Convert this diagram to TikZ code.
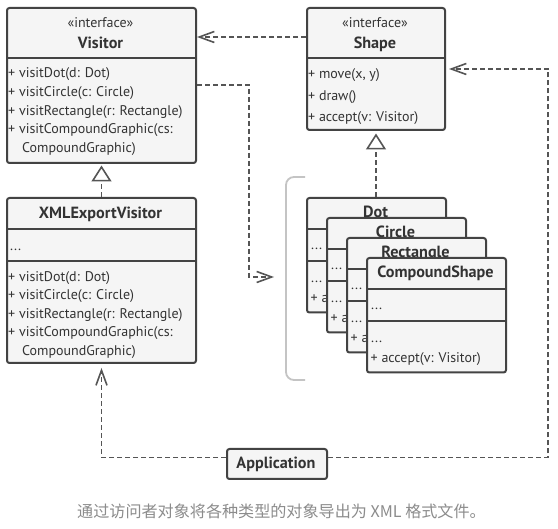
\documentclass[tikz,border=0pt]{standalone}
\usepackage{fontspec}
\setmainfont{PT Sans}
\newfontfamily\cjk{Noto Sans CJK SC}
\usetikzlibrary{arrows.meta}
\definecolor{boxc}{HTML}{434343}
\definecolor{boxf}{HTML}{F5F5F5}
\definecolor{txtc}{HTML}{333333}
\definecolor{linec}{HTML}{555555}
\definecolor{brkc}{HTML}{C4C4C4}
\definecolor{capc}{HTML}{8C8C8C}
\tikzset{
  umlbox/.style={draw=boxc, line width=2pt, fill=boxf, rounded corners=2.5pt, inner sep=0pt, anchor=north west},
  sepline/.style={draw=boxc, line width=2pt},
  txt/.style={anchor=base west, inner sep=0pt, text=txtc, font=\fontsize{14}{16}\selectfont},
  ctxt/.style={anchor=base, inner sep=0pt, text=txtc, font=\fontsize{14}{16}\selectfont},
  ttl/.style={anchor=base, inner sep=0pt, text=txtc, font=\fontsize{16.2}{19}\selectfont\bfseries},
  dep/.style={draw=linec, line width=1.6pt, dash pattern=on 5pt off 3pt, -{Straight Barb[length=15pt,width=11pt]}},
  realz/.style={draw=linec, line width=1.6pt, dash pattern=on 5pt off 3pt, -{Triangle[open,length=16pt,width=20pt]}},
  brk/.style={draw=brkc, line width=1.8pt, rounded corners=8pt},
}
\newcommand\shapebox[4]{% name, x, y, title
  \node[umlbox, minimum width=139pt, minimum height=114.5pt] (#1) at (#2,#3) {};
  \draw[sepline] (#2,#3+32) -- (#2+139,#3+32);
  \draw[sepline] (#2,#3+64.5) -- (#2+139,#3+64.5);
  \node[ttl] (#1t) at (#2+69.5,#3+21) {#4};
  \node[txt] (#1a) at (#2+5,#3+53) {...};
  \node[txt] (#1b) at (#2+5,#3+86) {...};
  \node[txt] (#1c) at (#2+4.5,#3+105.5) {+ accept(v: Visitor)};
}
\begin{document}
\begin{tikzpicture}[x=1pt,y=-1pt]
\useasboundingbox[fill=white] (0,0) rectangle (558,529);

% Visitor
\node[umlbox, minimum width=189pt, minimum height=155pt] (visitor) at (6,7) {};
\draw[sepline] (6,58) -- (195,58);
\node[ctxt] (v1) at (100.5,27.5) {«interface»};
\node[ttl] (v2) at (100.5,49) {Visitor};
\node[txt] (v3) at (8,78) {+ visitDot(d: Dot)};
\node[txt] (v4) at (8,96.7) {+ visitCircle(c: Circle)};
\node[txt] (v5) at (8,115.4) {+ visitRectangle(r: Rectangle)};
\node[txt] (v6) at (8,134) {+ visitCompoundGraphic(cs:};
\node[txt] (v7) at (22,152.8) {CompoundGraphic)};

% Shape
\node[umlbox, minimum width=138pt, minimum height=122pt] (shape) at (306,7) {};
\draw[sepline] (306,58) -- (444,58);
\node[ctxt] (s1) at (375,27.5) {«interface»};
\node[ttl] (s2) at (375,49) {Shape};
\node[txt] (s3) at (308,79) {+ move(x, y)};
\node[txt] (s4) at (308,100.5) {+ draw()};
\node[txt] (s5) at (308,121.5) {+ accept(v: Visitor)};

% XMLExportVisitor
\node[umlbox, minimum width=189pt, minimum height=165pt] (xml) at (6,197) {};
\draw[sepline] (6,229) -- (195,229);
\draw[sepline] (6,261) -- (195,261);
\node[ttl] (x1) at (100.5,218.5) {XMLExportVisitor};
\node[txt] (x2) at (10,251) {...};
\node[txt] (x3) at (8,281.5) {+ visitDot(d: Dot)};
\node[txt] (x4) at (8,300) {+ visitCircle(c: Circle)};
\node[txt] (x5) at (8,318.5) {+ visitRectangle(r: Rectangle)};
\node[txt] (x6) at (8,337) {+ visitCompoundGraphic(cs:};
\node[txt] (x7) at (22,355.5) {CompoundGraphic)};

% bracket
\draw[brk] (305,177) -- (286,177) -- (286,380) -- (305,380);
\coordinate (brkm) at (286,277);

% stacked concrete shapes
\shapebox{dot}{306}{197}{Dot}
\shapebox{circle}{326}{217}{Circle}
\shapebox{rect}{346}{237}{Rectangle}
\shapebox{comp}{366}{257}{CompoundShape}

% Application
\node[umlbox, minimum width=100pt, minimum height=30pt] (app) at (226,448) {};
\node[ttl] (appt) at (276,469) {Application};

% connectors
\draw[dep] ([yshift=-30pt]shape.north west) -- ([yshift=-30pt]visitor.north east);
\draw[dep] ([yshift=-78pt]visitor.north east) -- ++(52,0) |- ([xshift=-12pt]brkm);
\draw[realz, shorten >=1.5pt] (xml.north) -- (visitor.south);
\draw[realz, shorten >=2.5pt] (dot.north -| shape.south) -- (shape.south);
\draw[dep, shorten >=4pt] ([yshift=-9.5pt]app.north west) -| (xml.south);
\draw[dep, shorten >=3pt] ([yshift=-9.5pt]app.north east) -- ++(220,0) |- (shape.east);

% caption
\node[anchor=base west, inner sep=0pt, text=capc, font=\cjk\fontsize{16.1}{19}\selectfont] (cap) at (77,518) {通过访问者对象将各种类型的对象导出为 XML 格式文件。};
\end{tikzpicture}
\end{document}
